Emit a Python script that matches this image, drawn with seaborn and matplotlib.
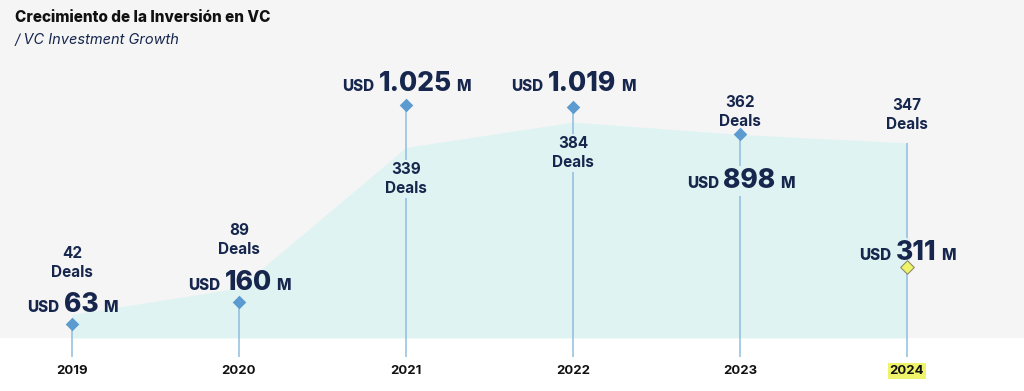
import matplotlib.pyplot as plt
import matplotlib.transforms as mtransforms
from matplotlib.patches import Rectangle
import pandas as pd
import seaborn as sns

# Data
years = ['2019', '2020', '2021', '2022', '2023', '2024']
deals = [42, 89, 339, 384, 362, 347]
investment = [63, 160, 1025, 1019, 898, 311]
investment_labels = ['63', '160', '1.025', '1.019', '898', '311']
highlight_year = '2024'

# Style
NAVY = '#16264d'
GRAY = '#f5f5f5'
AREA = '#dff4f2'
BLUE = '#5b9bd0'
STEM = '#8fbde0'
YELLOW = '#eef36a'

# Layout (pixels from top of a 1024x391 canvas)
W, H = 1024, 391
BASE = 338          # zero line of both scales
STEM_END = 357      # stems run a bit into the white band
DEALS_MAX = 601
INV_MAX = 1490
deals_label_y = [263, 240, 179, 153, 112, 115]
usd_baseline_y = [312, 290, 91, 91, 188, 260]
deals_mask = [False, False, True, True, False, False]
usd_mask = [False, False, False, False, True, True]

sns.set_theme(style='white')
plt.rcParams['font.family'] = ['Inter', 'DejaVu Sans']

df = pd.DataFrame({'year': years, 'x': range(len(years)), 'deals': deals, 'inv': investment})
df['hl'] = df['year'] == highlight_year

fig = plt.figure(figsize=(W / 100, H / 100), dpi=100, facecolor='white')
ax = fig.add_axes([0, (H - BASE) / H, 1, BASE / H])
ax.set_facecolor(GRAY)
ax2 = ax.twinx()

x0 = -72 / 167
ax.set_xlim(x0, x0 + W / 167)
ax.set_ylim(0, DEALS_MAX)
ax2.set_ylim(0, INV_MAX)

# area of deals
ax.fill_between(df['x'], 0, df['deals'], color=AREA, lw=0, zorder=1)

# stems
ext = (STEM_END - BASE) / BASE
norm = df[~df['hl']]
ax2.vlines(norm['x'], -INV_MAX * ext, norm['inv'], color=STEM, lw=1.1, zorder=2, clip_on=False)
hl = df[df['hl']]
ax.vlines(hl['x'], -DEALS_MAX * ext, hl['deals'], color=STEM, lw=1.1, zorder=2, clip_on=False)

# diamonds
sns.scatterplot(data=norm, x='x', y='inv', ax=ax2, marker='D', s=48, color=BLUE,
                linewidth=0, zorder=5, legend=False)
sns.scatterplot(data=hl, x='x', y='inv', ax=ax2, marker='D', s=48, color=YELLOW,
                edgecolor='#8d8d6a', linewidth=0.8, zorder=5, legend=False)

tr = mtransforms.blended_transform_factory(ax2.transData, fig.transFigure)
tr_num = mtransforms.offset_copy(tr, fig=fig, x=6.5, units='points')

masked = []
for i, row in df.iterrows():
    t = ax2.text(row['x'], 1 - deals_label_y[i] / H, f"{row['deals']}\nDeals", transform=tr,
                 ha='center', va='center', fontsize=11, fontweight='bold', color=NAVY,
                 linespacing=1.4, zorder=6)
    if deals_mask[i]:
        masked.append((row['x'], t))

    yb = 1 - usd_baseline_y[i] / H
    num = ax2.text(row['x'], yb, investment_labels[i], transform=tr_num, ha='center',
                   va='baseline', fontsize=19, fontweight='heavy', color=NAVY, zorder=6)
    if usd_mask[i]:
        masked.append((row['x'], num))
    ax2.annotate('USD', xy=(0, yb), xycoords=(num, tr), xytext=(-3, 0), textcoords='offset points',
                 ha='right', va='baseline', fontsize=11, fontweight='heavy', color=NAVY, zorder=6)
    ax2.annotate('M', xy=(1, yb), xycoords=(num, tr), xytext=(3.5, 0), textcoords='offset points',
                 ha='left', va='baseline', fontsize=11, fontweight='heavy', color=NAVY, zorder=6)

# year axis
ax.set_xticks(df['x'], years)
ax.tick_params(axis='x', length=0, pad=19.5, labelsize=9.5, labelcolor='#111111')
for lab in ax.get_xticklabels():
    lab.set_fontweight('bold')
    if lab.get_text() == highlight_year:
        lab.set_bbox(dict(boxstyle='square,pad=0.15', fc=YELLOW, ec='none'))
ax.set_yticks([])
ax2.set_yticks([])
ax.set_xlabel('')
ax.set_ylabel('')
ax2.set_xlabel('')
ax2.set_ylabel('')
for a in (ax, ax2):
    for s in a.spines.values():
        s.set_visible(False)

fig.text(15 / W, 1 - 18 / H, 'Crecimiento de la Inversión en VC', ha='left', va='center',
         fontsize=11, fontweight='heavy', color='#111111')
fig.text(15 / W, 1 - 40 / H, '/ VC Investment Growth', ha='left', va='center',
         fontsize=10.5, style='italic', color=NAVY)

# break the stems where a label sits on top of them
fig.canvas.draw()
renderer = fig.canvas.get_renderer()
for xv, t in masked:
    bb = t.get_window_extent(renderer)
    xd = ax2.transData.transform((xv, 0))[0]
    ax2.add_patch(Rectangle((xd - 3, bb.y0 - 2), 6, bb.height + 4, fc=AREA, ec='none',
                            transform=mtransforms.IdentityTransform(), zorder=3))

fig.savefig('out.png', dpi=100, facecolor='white')
